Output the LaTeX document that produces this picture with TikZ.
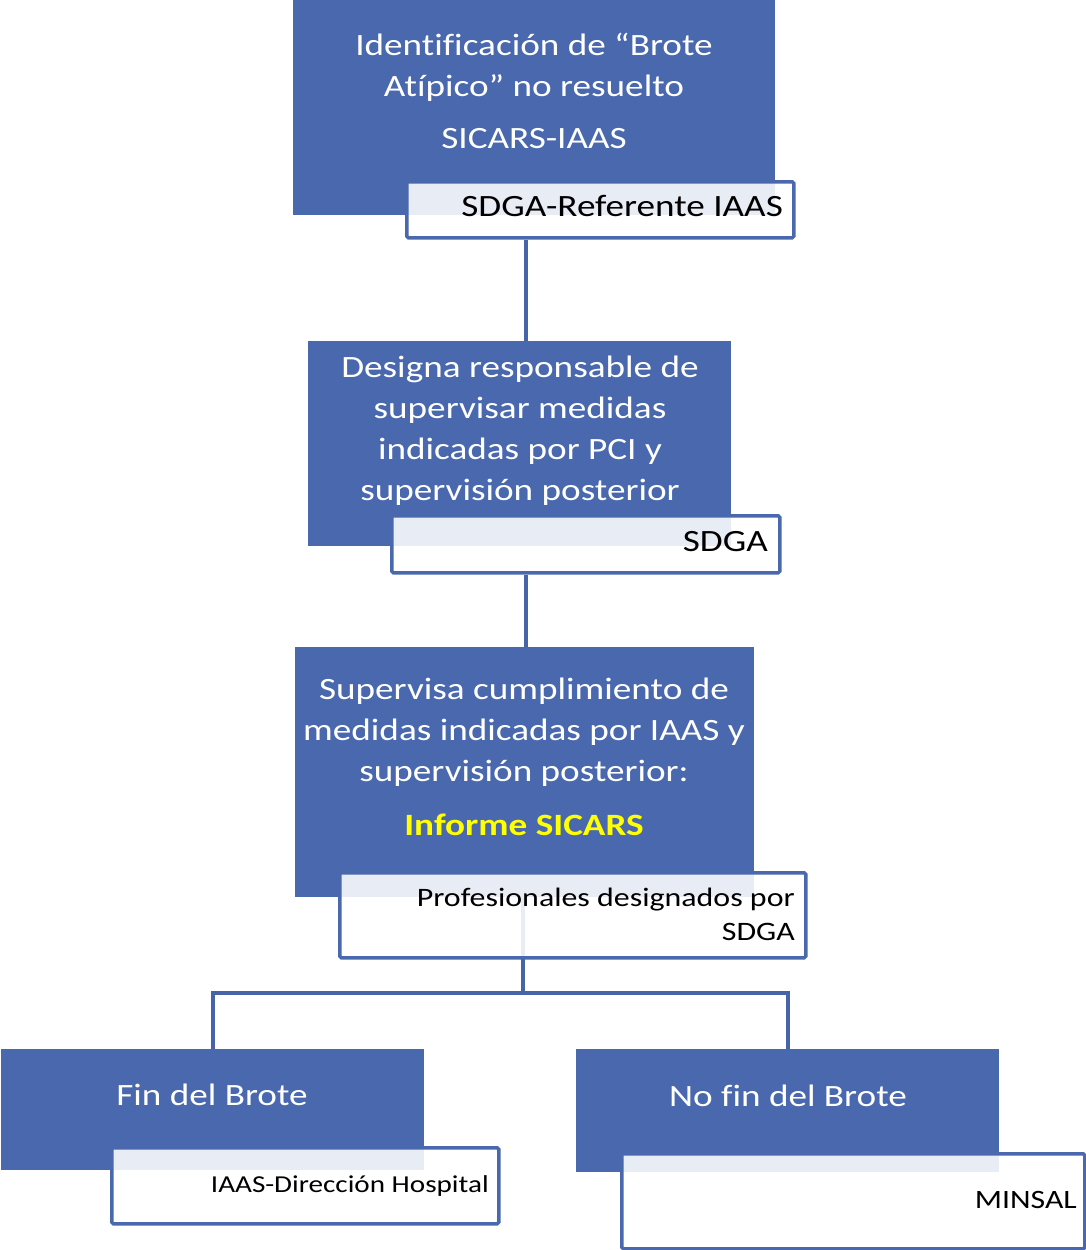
\documentclass[tikz,border=0pt]{standalone}
\usepackage{fontspec}
\setmainfont{Carlito}[FakeStretch=1.2,Ligatures=NoCommon]
\definecolor{boxblue}{RGB}{74,104,174}
\definecolor{lineblue}{RGB}{70,100,168}
\definecolor{informe}{RGB}{255,255,0}
\tikzset{
  bluebox/.style={draw=none,fill=boxblue,inner sep=0pt,anchor=north west},
  labbox/.style={draw=boxblue,line width=3.5pt,fill=white,fill opacity=0.88,rounded corners=1.5pt,inner sep=0pt,anchor=north west},
  maintext/.style={text=white,align=center,inner sep=0pt,font=\fontsize{31}{41}\selectfont},
  labtext/.style={text=black,align=right,inner sep=0pt,anchor=east},
  conn/.style={draw=lineblue,line width=4pt}
}
\begin{document}
\begin{tikzpicture}[x=1pt,y=-1pt]
\useasboundingbox (0,0) rectangle (1086,1250);
\coordinate (c1) at (526,0);
\coordinate (c3) at (523,993);
\path (293,0) node[bluebox,minimum width=482pt,minimum height=215pt] (b1) {};
\path (308,341) node[bluebox,minimum width=423pt,minimum height=205pt] (b2) {};
\path (295,647) node[bluebox,minimum width=459pt,minimum height=250pt] (b3) {};
\path (1,1049) node[bluebox,minimum width=423pt,minimum height=121pt] (b4) {};
\path (576,1049) node[bluebox,minimum width=423pt,minimum height=123pt] (b5) {};
\path (405,180) node[labbox,minimum width=387pt,minimum height=56pt] (l1) {};
\path (390,514) node[labbox,minimum width=388pt,minimum height=57pt] (l2) {};
\draw[conn] (l1.south -| c1) -- (b2.north -| c1);
\draw[conn] (l2.south -| c1) -- (b3.north -| c1);
\draw[conn] (b3.south -| c3) -- (c3);
\draw[conn,line join=miter] (b4.north) -- (b4.north |- c3) -- (b5.north |- c3) -- (b5.north);
\fill[boxblue] (b3.north west) rectangle (b3.south east);
\fill[boxblue] (b4.north west) rectangle (b4.south east);
\fill[boxblue] (b5.north west) rectangle (b5.south east);
\path (338,871) node[labbox,minimum width=466pt,minimum height=85pt] (l3) {};
\path (110,1146) node[labbox,minimum width=387pt,minimum height=76pt] (l4) {};
\path (620,1152) node[labbox,minimum width=463pt,minimum height=95pt] (l5) {};
\node[maintext] (t1) at (534,67) {Identificación de “Brote\\Atípico” no resuelto};
\node[maintext] (t1b) at (534,139) {SICARS-IAAS};
\node[maintext] (t2) at (520,430.5) {Designa responsable de\\supervisar medidas\\indicadas por PCI y\\supervisión posterior};
\node[maintext] (t3) at (524,732.5) {Supervisa cumplimiento de\\medidas indicadas por IAAS y\\supervisión posterior:};
\node[maintext,text=informe,font=\fontsize{31}{41}\bfseries] (t3b) at (524,825) {Informe SICARS};
\node[maintext] (t4) at (212,1095) {Fin del Brote};
\node[maintext] (t5) at (788,1096) {No fin del Brote};
\node[labtext,font=\fontsize{31}{38}\selectfont] (lt1) at (783,206) {SDGA-Referente IAAS};
\node[labtext,font=\fontsize{31}{38}\selectfont] (lt2) at (768,542) {SDGA};
\node[labtext,font=\fontsize{26.6}{34}\selectfont] (lt3) at (795,914) {Profesionales designados por\\SDGA};
\node[labtext,font=\fontsize{24.3}{30}\selectfont] (lt4) at (489,1186) {IAAS-Dirección Hospital};
\node[labtext,font=\fontsize{26.5}{30}\selectfont] (lt5) at (1077,1200) {MINSAL};
\end{tikzpicture}
\end{document}
